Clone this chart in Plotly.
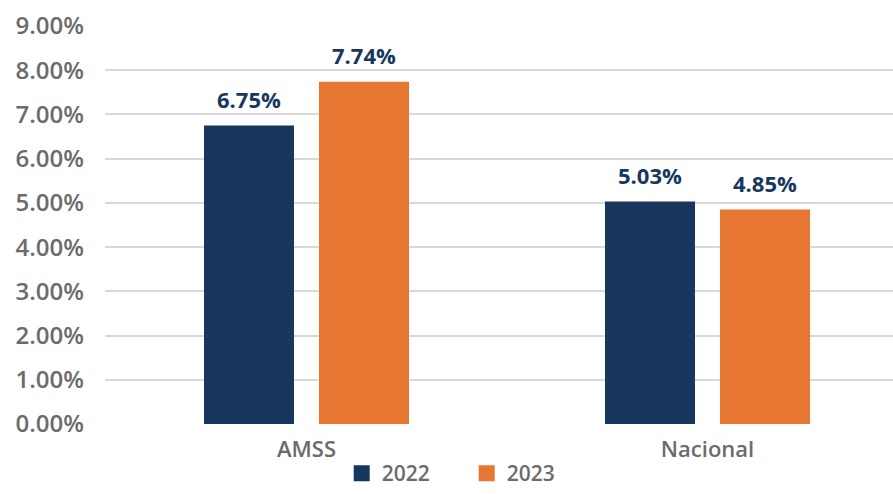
import plotly.graph_objects as go

categories = ["AMSS", "Nacional"]
series_names = ["2022", "2023"]
values_2022 = [6.75, 5.03]
values_2023 = [7.74, 4.85]
y_ticks = [0, 1, 2, 3, 4, 5, 6, 7, 8, 9]
y_tick_labels = [f"{t:.2f}%" for t in y_ticks]

colors = {"2022": "#17375E", "2023": "#E87633"}
FONT = "Open Sans, Noto Sans, sans-serif"
GRAY = "#6B6B6B"

bar_w = 0.2244
gap_half = 0.0312
offsets = {"2022": -(bar_w + gap_half), "2023": gap_half}
series = {"2022": values_2022, "2023": values_2023}

fig = go.Figure()
for name in series_names:
    fig.add_trace(go.Bar(
        x=categories, y=series[name], name=name,
        marker=dict(color=colors[name], line=dict(width=0)),
        width=bar_w, offset=offsets[name], showlegend=False,
    ))
    # legend proxies
    fig.add_trace(go.Scatter(
        x=[None], y=[None], mode="markers", name=name,
        marker=dict(symbol="square", size=19, color=colors[name]),
        showlegend=True,
    ))

annotations = []
for name in series_names:
    for i, v in enumerate(series[name]):
        annotations.append(dict(
            x=i + offsets[name] + bar_w / 2, y=v, xref="x", yref="y",
            text=f"{v:.2f}%", showarrow=False, yanchor="bottom",
            yshift=10,
            font=dict(family=FONT, size=22, color="#17375E", weight="bold"),
        ))

fig.update_layout(
    width=893, height=494,
    margin=dict(l=105, r=0, t=26, b=70, autoexpand=False),
    plot_bgcolor="white", paper_bgcolor="white",
    barmode="overlay",
    annotations=annotations,
    font=dict(family=FONT, color=GRAY),
    legend=dict(
        orientation="h", x=0.459, xanchor="center", y=-0.176, yanchor="bottom",
        font=dict(family=FONT, size=21, color=GRAY, weight=600),
        itemwidth=30, entrywidth=80, entrywidthmode="pixels",
    ),
    xaxis=dict(
        type="category", range=[-0.5025, 1.4626], automargin=False,
        showgrid=False, zeroline=False, showline=False, ticks="",
        tickfont=dict(family=FONT, size=22, color=GRAY, weight=600),
        ticklabelstandoff=10,
    ),
    yaxis=dict(
        range=[0, 9], tickvals=y_ticks, ticktext=y_tick_labels, automargin=False,
        showgrid=True, gridcolor="#D9D9D9", gridwidth=2,
        zeroline=False, showline=False, ticks="",
        tickfont=dict(family=FONT, size=24, color=GRAY, weight=600),
        ticklabelstandoff=20,
    ),
)

fig.write_html(
    "out.html",
    config={"displayModeBar": False},
    post_script="document.body.style.margin='0';document.body.style.overflow='hidden';",
)
